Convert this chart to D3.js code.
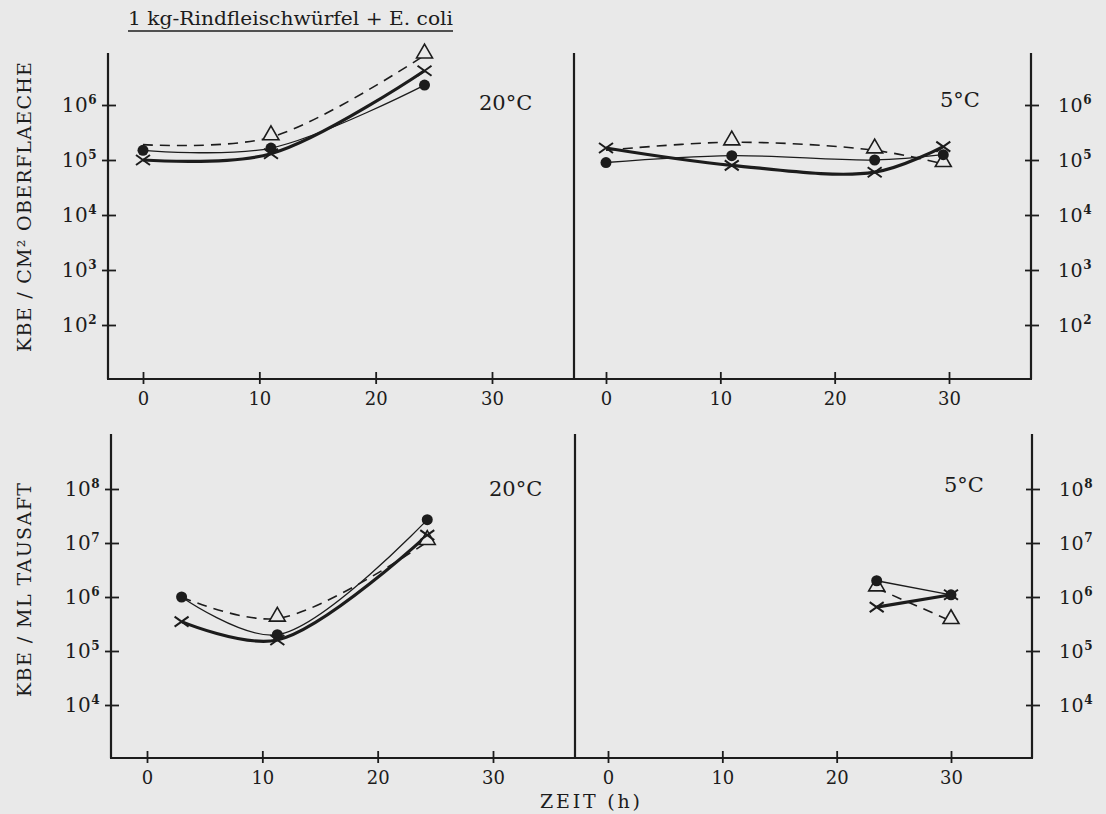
<!DOCTYPE html>
<html>
<head>
<meta charset="utf-8">
<script src="https://cdn.jsdelivr.net/npm/d3@7"></script>
<style>
  body { margin: 0; background: #e9e9e9; }
  svg text { font-family: "DejaVu Serif", "Liberation Serif", serif; fill: #1c1c1c; }
</style>
</head>
<body>
<script>
const width = 1106;
const height = 814;
const ink = "#1c1c1c";
const paper = "#e9e9e9";

// Oberflaeche (KBE / cm²), 20 °C
const hoursTop20 = [0, 11, 24.2];
const circleTop20 = [1.5e5, 1.65e5, 2.3e6];
const crossTop20 = [1.0e5, 1.3e5, 4.2e6];
const triTop20 = [1.9e5, 2.6e5, 8.0e6];

// Oberflaeche (KBE / cm²), 5 °C
const hoursTop5 = [0, 11, 23.5, 29.5];
const circleTop5 = [9.0e4, 1.2e5, 1.0e5, 1.25e5];
const crossTop5 = [1.65e5, 8.0e4, 6.0e4, 1.75e5];
const triTop5 = [1.5e5, 2.1e5, 1.5e5, 8.5e4];

// Tausaft (KBE / ml), 20 °C
const hoursBot20 = [3, 11.3, 24.3];
const circleBot20 = [1.0e6, 2.0e5, 2.7e7];
const crossBot20 = [3.5e5, 1.6e5, 1.4e7];
const triBot20 = [1.0e6, 4.0e5, 1.05e7];

// Tausaft (KBE / ml), 5 °C
const hoursBot5 = [23.5, 30];
const circleBot5 = [2.0e6, 1.1e6];
const crossBot5 = [6.5e5, 1.1e6];
const triBot5 = [1.45e6, 3.6e5];

const hourTicks = [0, 10, 20, 30];
const topTicks = [1e2, 1e3, 1e4, 1e5, 1e6];
const botTicks = [1e4, 1e5, 1e6, 1e7, 1e8];

const svg = d3.select("body").append("svg")
  .attr("width", width)
  .attr("height", height);

svg.append("rect").attr("width", width).attr("height", height).attr("fill", paper);

// Title, underlined
svg.append("text")
  .attr("x", 128).attr("y", 25)
  .attr("font-size", 19)
  .attr("font-family", "Liberation Serif")
  .attr("textLength", 325)
  .attr("lengthAdjust", "spacingAndGlyphs")
  .text("1 kg-Rindfleischwürfel + E. coli");
svg.append("line")
  .attr("x1", 128).attr("x2", 453).attr("y1", 31).attr("y2", 31)
  .attr("stroke", ink).attr("stroke-width", 1.5);

// rows of the figure
const rows = [
  { top: 53, base: 379, left: 108, mid: 574, right: 1031,
    y: d3.scaleLog().domain([1e1, 1e7]).range([380, 50]), ticks: topTicks,
    label: "KBE / CM² OBERFLAECHE", labelY: 207, labelLen: 290 },
  { top: 434, base: 758, left: 111, mid: 575, right: 1032,
    y: d3.scaleLog().domain([1e3, 1e9]).range([759, 435]), ticks: botTicks,
    label: "KBE / ML TAUSAFT", labelY: 590, labelLen: 214 }
];

// triStart: first point that carries a visible triangle
const panels = [
  { row: 0, x: d3.scaleLinear().domain([0, 30]).range([143, 492]), temp: "20°C", tx: 479, ty: 110,
    hours: hoursTop20, circle: circleTop20, cross: crossTop20, tri: triTop20, triStart: 1 },
  { row: 0, x: d3.scaleLinear().domain([0, 30]).range([606, 949]), temp: "5°C", tx: 940, ty: 107,
    hours: hoursTop5, circle: circleTop5, cross: crossTop5, tri: triTop5, triStart: 1 },
  { row: 1, x: d3.scaleLinear().domain([0, 30]).range([147, 493]), temp: "20°C", tx: 489, ty: 496,
    hours: hoursBot20, circle: circleBot20, cross: crossBot20, tri: triBot20, triStart: 1 },
  { row: 1, x: d3.scaleLinear().domain([0, 30]).range([608, 951]), temp: "5°C", tx: 944, ty: 492,
    hours: hoursBot5, circle: circleBot5, cross: crossBot5, tri: triBot5, triStart: 0 }
];

function expLabel(sel, d) {
  sel.text("");
  sel.append("tspan").text("10");
  sel.append("tspan")
    .attr("dy", -8).attr("font-size", 12).attr("font-weight", "bold")
    .text(Math.round(Math.log10(d)));
}

rows.forEach(function(r) {
  const g = svg.append("g");

  // frame: left axis, divider, right axis, base line
  [r.left, r.mid, r.right].forEach(function(xx) {
    g.append("line").attr("x1", xx).attr("x2", xx).attr("y1", r.top).attr("y2", r.base)
      .attr("stroke", ink).attr("stroke-width", 2.2);
  });
  g.append("line").attr("x1", r.left - 1).attr("x2", r.right + 1).attr("y1", r.base).attr("y2", r.base)
    .attr("stroke", ink).attr("stroke-width", 2.2);

  // left log axis
  const ya = g.append("g").attr("transform", `translate(${r.left},0)`)
    .call(d3.axisLeft(r.y).tickValues(r.ticks).tickSize(0).tickPadding(11));
  ya.select(".domain").remove();
  ya.selectAll(".tick line").attr("x1", -6).attr("x2", 8).attr("stroke", ink).attr("stroke-width", 1.8);
  ya.selectAll(".tick text").attr("font-size", 20).attr("letter-spacing", 0.5)
    .attr("fill", ink).attr("font-family", "DejaVu Serif")
    .each(function(d) { expLabel(d3.select(this), d); });

  // right log axis
  const yb = g.append("g").attr("transform", `translate(${r.right},0)`)
    .call(d3.axisRight(r.y).tickValues(r.ticks).tickSize(0).tickPadding(27));
  yb.select(".domain").remove();
  yb.selectAll(".tick line").attr("x1", -6).attr("x2", 8).attr("stroke", ink).attr("stroke-width", 1.8);
  yb.selectAll(".tick text").attr("font-size", 19).attr("letter-spacing", 0.5)
    .attr("fill", ink).attr("font-family", "DejaVu Serif")
    .each(function(d) { expLabel(d3.select(this), d); });

  // y title
  g.append("text")
    .attr("transform", `translate(31,${r.labelY}) rotate(-90)`)
    .attr("text-anchor", "middle")
    .attr("font-size", 19)
    .attr("textLength", r.labelLen)
    .attr("lengthAdjust", "spacing")
    .text(r.label);
});

panels.forEach(function(p) {
  const r = rows[p.row];
  const g = svg.append("g");

  const xa = g.append("g").attr("transform", `translate(0,${r.base})`)
    .call(d3.axisBottom(p.x).tickValues(hourTicks).tickSize(0).tickPadding(13));
  xa.select(".domain").remove();
  xa.selectAll(".tick line").attr("y1", -7).attr("y2", 5).attr("stroke", ink).attr("stroke-width", 1.8);
  xa.selectAll(".tick text").attr("font-size", 18).attr("fill", ink).attr("font-family", "DejaVu Serif");

  g.append("text").attr("x", p.tx).attr("y", p.ty)
    .attr("font-size", 21).attr("font-family", "Liberation Serif").text(p.temp);

  const pts = key => p.hours.map((h, i) => [h, p[key][i]]);
  const line = d3.line()
    .x(d => p.x(d[0]))
    .y(d => r.y(d[1]))
    .curve(d3.curveCatmullRom.alpha(0.5));

  g.append("path").attr("d", line(pts("tri"))).attr("fill", "none")
    .attr("stroke", ink).attr("stroke-width", 1.6).attr("stroke-dasharray", "10,7");
  g.append("path").attr("d", line(pts("circle"))).attr("fill", "none")
    .attr("stroke", ink).attr("stroke-width", 1.3);
  g.append("path").attr("d", line(pts("cross"))).attr("fill", "none")
    .attr("stroke", ink).attr("stroke-width", 3.2);

  g.selectAll(".tri").data(pts("tri").slice(p.triStart)).enter().append("path")
    .attr("transform", d => `translate(${p.x(d[0])},${r.y(d[1]) - 2})`)
    .attr("d", d3.symbol(d3.symbolTriangle, 110))
    .attr("fill", paper).attr("stroke", ink).attr("stroke-width", 1.6);
  g.selectAll(".circ").data(pts("circle")).enter().append("circle")
    .attr("cx", d => p.x(d[0])).attr("cy", d => r.y(d[1])).attr("r", 5.5)
    .attr("fill", ink);
  g.selectAll(".cross").data(pts("cross")).enter().append("path")
    .attr("transform", d => `translate(${p.x(d[0])},${r.y(d[1])})`)
    .attr("d", "M-7,-5L7,5M-7,5L7,-5")
    .attr("stroke", ink).attr("stroke-width", 2).attr("fill", "none");
});

// shared x title
svg.append("text")
  .attr("x", 540).attr("y", 808)
  .attr("font-size", 19)
  .attr("textLength", 100)
  .attr("lengthAdjust", "spacing")
  .text("ZEIT (h)");
</script>
</body>
</html>
